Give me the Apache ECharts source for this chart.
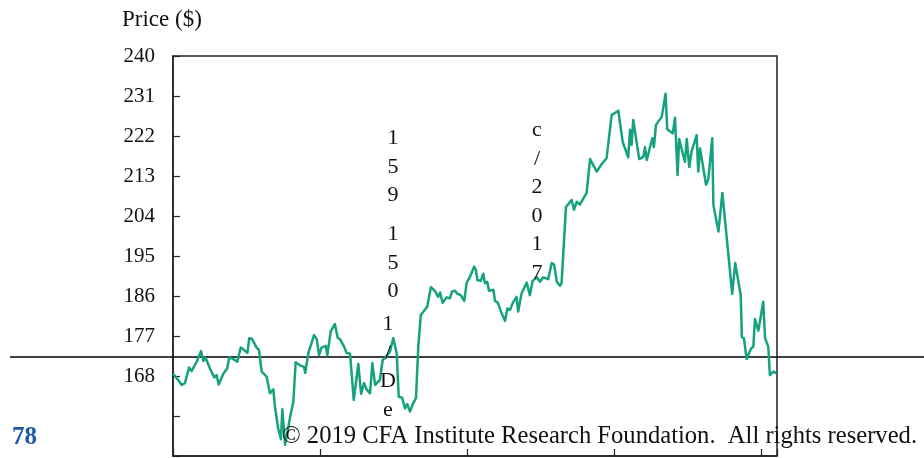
<!DOCTYPE html>
<html>
<head>
<meta charset="utf-8">
<title>Price ($)</title>
<script src="https://cdn.jsdelivr.net/npm/echarts@6/dist/echarts.min.js"></script>
<style>
html, body { margin: 0; padding: 0; background: #fff; }
#chart { width: 924px; height: 458px; }
</style>
</head>
<body>
<div id="chart"></div>
<script>
// trading day index (0 = first day shown) and closing price
var days = [0, 1.9, 3.8, 5.2, 7.0, 8.1, 10.3, 12.2, 13.2, 14.2, 16.1, 18.0, 19.0, 19.9, 21.9, 23.6, 24.5, 26.3, 28.0, 29.5,
	30.6, 32.4, 33.2, 34.3, 36.4, 37.4, 38.6, 39.6, 40.8, 42.2, 43.7, 44.4, 45.8, 47.0, 47.6, 48.8, 51.0, 52.4, 53.4, 55.6,
	57.0, 57.6, 58.9, 61.4, 62.6, 63.6, 64.7, 66.5, 67.2, 68.7, 70.5, 71.7, 72.7, 74.5, 75.6, 77.1, 78.7, 80.7, 81.9, 83.2,
	84.3, 85.8, 86.8, 88.0, 90.1, 91.3, 92.7, 94.5, 95.9, 97.4, 98.3, 99.8, 101.0, 102.0, 103.2, 104.6, 105.8, 106.8, 107.9, 110.7,
	112.3, 114.1, 115.5, 116.3, 117.4, 119.2, 120.6, 121.5, 122.8, 123.8, 125.3, 126.8, 127.9, 129.3, 131.1, 131.9, 132.5, 134.0, 135.1, 135.8,
	136.8, 137.6, 139.5, 140.2, 141.4, 143.1, 144.6, 145.6, 146.8, 147.9, 149.6, 150.3, 151.8, 154.0, 155.4, 156.6, 158.4, 159.8, 161.2, 163.4,
	164.9, 166.0, 167.1, 168.5, 169.2, 171.1, 173.6, 174.6, 175.8, 177.2, 180.1, 181.6, 184.5, 186.7, 188.8, 191.0, 193.9, 195.8, 198.2, 199.0,
	199.7, 200.4, 203.0, 204.8, 205.5, 206.3, 208.7, 209.4, 210.3, 212.8, 214.5, 215.2, 217.6, 218.6, 219.7, 220.4, 222.9, 223.7, 224.8, 225.8,
	228.0, 228.7, 229.5, 232.1, 233.1, 234.8, 235.3, 237.5, 239.2, 243.5, 244.8, 247.2, 247.7, 248.6, 249.8, 251.7, 252.7, 253.4, 254.9, 257.0,
	257.8, 259.2, 259.9, 261.4, 262.6];
var price = [168.5, 167.3, 166.0, 166.4, 169.9, 169.1, 171.2, 173.6, 171.4, 172.1, 169.7, 167.7, 168.2, 166.1, 168.5, 169.7, 172.2, 171.8, 171.2, 174.4,
	174.0, 173.2, 176.5, 176.4, 174.4, 173.9, 169.0, 168.5, 167.8, 164.1, 165.0, 161.1, 156.2, 153.8, 160.5, 152.5, 158.8, 162.2, 171.1, 170.3,
	170.1, 168.7, 173.1, 177.2, 176.3, 172.7, 174.4, 174.8, 172.7, 178.1, 179.7, 176.6, 176.3, 174.6, 173.2, 173.0, 162.6, 170.7, 164.0, 166.4,
	165.0, 164.1, 170.9, 166.0, 167.1, 171.6, 172.3, 173.5, 176.5, 173.1, 163.3, 163.1, 160.7, 161.7, 160.0, 161.9, 163.0, 174.6, 181.7, 183.6,
	188.0, 187.1, 185.8, 186.8, 184.5, 185.7, 185.5, 187.0, 187.2, 186.5, 186.2, 184.9, 189.0, 190.3, 192.6, 191.9, 189.6, 189.4, 191.0, 188.9,
	189.2, 187.2, 187.4, 184.9, 184.5, 182.1, 180.4, 183.2, 182.9, 184.4, 185.8, 182.5, 186.6, 189.0, 186.2, 189.4, 190.2, 189.2, 190.2, 189.8,
	193.4, 193.0, 189.2, 188.3, 188.9, 206.0, 207.6, 205.4, 207.2, 206.6, 209.2, 216.8, 214.0, 215.7, 217.0, 226.7, 227.7, 220.7, 217.2, 223.4,
	220.0, 225.6, 216.8, 217.3, 219.5, 216.6, 221.5, 219.5, 224.5, 226.3, 231.5, 223.5, 222.6, 226.1, 213.2, 221.3, 216.2, 221.3, 215.0, 218.5,
	222.2, 214.0, 219.2, 211.0, 212.3, 221.5, 206.5, 200.5, 209.2, 186.5, 193.4, 186.2, 176.7, 176.5, 171.8, 174.2, 174.6, 180.8, 178.2, 184.7,
	176.5, 174.6, 168.2, 169.0, 168.6];

var yTicks = [150, 159, 168, 177, 186, 195, 204, 213, 222, 231, 240];
var yLabels = [168, 177, 186, 195, 204, 213, 222, 231, 240];

// stray text left over in the page, drawn one character per line
var strayText = [
	{ chars: '159', x: 393, y: 124 },
	{ chars: '150', x: 393, y: 220 },
	{ chars: '1/De', x: 388, y: 310 },
	{ chars: 'c/2017', x: 537, y: 116 }
];

var SERIF = '"Liberation Serif", "DejaVu Serif", serif';

function $each(arr, fn) {
	for (var i = 0; i < arr.length; i++) fn(arr[i], i);
}

function buildPoints() {
	var pts = [];
	for (var i = 0; i < days.length; i++) {
		pts.push([days[i], price[i]]);
	}
	return pts;
}

function buildGraphic() {
	var items = [];

	// thin page rule across the whole width
	items.push({
		type: 'line',
		z: 1,
		shape: { x1: 10, y1: 357, x2: 924, y2: 357 },
		style: { stroke: '#000', lineWidth: 1.5 }
	});

	items.push({
		type: 'text', left: 122, top: 8, z: 100,
		style: { text: 'Price ($)', font: '23px ' + SERIF, fill: '#111' }
	});

	$each(strayText, function(s) {
		items.push({
			type: 'text', x: s.x, y: s.y, z: 100,
			style: {
				text: s.chars.split('').join('\n'),
				font: '22px ' + SERIF,
				lineHeight: 28.5,
				fill: '#111',
				align: 'center'
			}
		});
	});

	items.push({
		type: 'text', left: 12, top: 425, z: 100,
		style: { text: '78', font: 'bold 25px ' + SERIF, fill: '#1f5aa6' }
	});
	items.push({
		type: 'text', left: 282, top: 424, z: 100,
		style: { text: '\u00a9 2019 CFA Institute Research Foundation.  All rights reserved.', font: '24.6px ' + SERIF, fill: '#111' }
	});
	return items;
}

var chart = echarts.init(document.getElementById('chart'), null, { renderer: 'canvas' });

chart.setOption({
	animation: false,
	grid: {
		left: 173, top: 56, right: 147, bottom: 2,
		show: true, borderColor: '#222', borderWidth: 1.5, backgroundColor: 'transparent'
	},
	xAxis: {
		type: 'value',
		min: 0,
		max: 263,
		interval: 64,
		axisLine: { show: true, lineStyle: { color: '#222', width: 1.5 } },
		axisTick: { show: true, inside: true, length: 7, lineStyle: { color: '#222', width: 1.2 } },
		axisLabel: { show: false },
		splitLine: { show: false }
	},
	yAxis: {
		type: 'value',
		min: 150,
		max: 240,
		axisLine: { show: true, lineStyle: { color: '#222', width: 1.5 } },
		axisTick: { show: true, inside: true, length: 7, customValues: yTicks, lineStyle: { color: '#222', width: 1.2 } },
		axisLabel: {
			show: true,
			customValues: yLabels,
			margin: 18,
			fontFamily: SERIF,
			fontSize: 21,
			color: '#111'
		},
		splitLine: { show: false }
	},
	series: [{
		type: 'line',
		data: buildPoints(),
		showSymbol: false,
		z: 5,
		lineStyle: { color: '#16a27e', width: 2.5, join: 'round' }
	}],
	graphic: buildGraphic()
});
</script>
</body>
</html>
